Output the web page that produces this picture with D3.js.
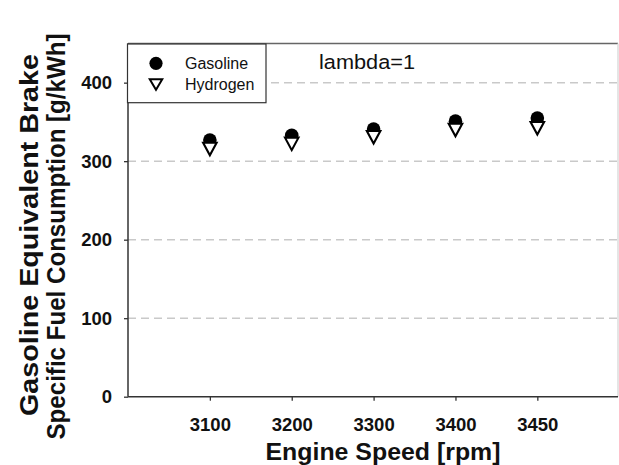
<!DOCTYPE html>
<html><head><meta charset="utf-8">
<script src="https://cdn.jsdelivr.net/npm/d3@7"></script>
<style>body{margin:0;background:#fff}svg{display:block}</style>
</head><body><svg id="c" width="619" height="465"></svg>
<script>
const categories = ["3100", "3200", "3300", "3400", "3450"];
const gasoline = [327, 333, 341, 351, 355];
const hydrogen = [315.5, 322, 330.5, 339.7, 342];
const yTicks = [0, 100, 200, 300, 400];
const gridValues = [100, 200, 300, 400];
const seriesNames = ["Gasoline", "Hydrogen"];
const annotation = "lambda=1";
const xTitle = "Engine Speed [rpm]";
const yTitle = ["Gasoline Equivalent Brake", "Specific Fuel Consumption [g/kWh]"];

const font = "'Liberation Sans', Arial, Helvetica, sans-serif";
const svg = d3.select("#c").style("font-family", font);

const x = d3.scaleLinear().domain([0, 6]).range([128, 619.2]);
const y = d3.scaleLinear().domain([0, 450]).range([396.7, 43.4]);
const idx = categories.map((c, i) => i + 1);

// grid
svg.append("g").selectAll("line").data(gridValues).join("line")
  .attr("x1", 128).attr("x2", 618)
  .attr("y1", d => y(d)).attr("y2", d => y(d))
  .attr("stroke", "#c9c9c9").attr("stroke-width", 1.5)
  .attr("stroke-dasharray", "8,5");

// frame top & right
svg.append("line").attr("x1", 128).attr("x2", 618).attr("y1", y(450)).attr("y2", y(450))
  .attr("stroke", "#666").attr("stroke-width", 1.5);
svg.append("line").attr("x1", 618).attr("x2", 618).attr("y1", y(450)).attr("y2", y(0))
  .attr("stroke", "#ddd").attr("stroke-width", 1.5);

// axes
const yAxis = d3.axisLeft(y).tickValues(yTicks).tickSize(4).tickPadding(12).tickFormat(d3.format("d"));
const gy = svg.append("g").attr("transform", "translate(128,0)").call(yAxis);
gy.select(".domain").attr("d", `M0,${y(450)}V${y(0)}`).attr("stroke", "#333").attr("stroke-width", 1.5);
gy.selectAll(".tick line").attr("stroke", "#333").attr("stroke-width", 1.3);
gy.selectAll(".tick text").attr("font-size", 18.5).attr("font-weight", "bold").attr("fill", "#111")
  .attr("font-family", font);

const xAxis = d3.axisBottom(x).tickValues(idx).tickSize(4).tickPadding(17)
  .tickFormat(i => categories[i - 1]);
const gx = svg.append("g").attr("transform", `translate(0,${y(0)})`).call(xAxis);
gx.select(".domain").attr("d", `M128,0H618`).attr("stroke", "#333").attr("stroke-width", 1.5);
gx.selectAll(".tick line").attr("stroke", "#333").attr("stroke-width", 1.3);
gx.selectAll(".tick text").attr("font-size", 18.5).attr("font-weight", "bold").attr("fill", "#111")
  .attr("font-family", font);

// titles
svg.append("text").attr("x", 383).attr("y", 460).attr("text-anchor", "middle")
  .attr("font-size", 23.5).attr("font-weight", "bold").attr("fill", "#111")
  .attr("textLength", 235).attr("lengthAdjust", "spacingAndGlyphs").text(xTitle);

const yt = [[38, 235, 362], [65, 236.5, 406]];
yTitle.forEach((t, i) => {
  svg.append("text").attr("transform", `translate(${yt[i][0]},${yt[i][1]}) rotate(-90)`)
    .attr("text-anchor", "middle").attr("font-size", 25.5).attr("font-weight", "bold").attr("fill", "#111")
    .attr("textLength", yt[i][2]).attr("lengthAdjust", "spacingAndGlyphs").text(t);
});

// triangle path generator
function tri(cx, cy, w, h) {
  return `M${cx - w / 2},${cy - h / 2}L${cx + w / 2},${cy - h / 2}L${cx},${cy + h / 2}Z`;
}

// data markers
svg.append("g").selectAll("circle").data(gasoline).join("circle")
  .attr("cx", (d, i) => x(idx[i])).attr("cy", d => y(d)).attr("r", 6.8).attr("fill", "#000");
svg.append("g").selectAll("path").data(hydrogen).join("path")
  .attr("d", (d, i) => tri(x(idx[i]), y(d), 13.5, 12.5))
  .attr("fill", "#fff").attr("stroke", "#000").attr("stroke-width", 2.1).attr("stroke-linejoin", "miter");

// legend
const lg = svg.append("g");
lg.append("rect").attr("x", 127.5).attr("y", 44).attr("width", 138.5).attr("height", 58.7)
  .attr("fill", "#fff").attr("stroke", "#333").attr("stroke-width", 1.2);
lg.append("circle").attr("cx", 156).attr("cy", 63.3).attr("r", 6.6).attr("fill", "#000");
lg.append("path").attr("d", tri(156, 84.5, 12.5, 10.7)).attr("fill", "#fff").attr("stroke", "#000").attr("stroke-width", 2);
lg.selectAll("text.lt").data(seriesNames).join("text").attr("class", "lt")
  .attr("x", 185).attr("y", (d, i) => [69.3, 89.5][i])
  .attr("font-size", 16).attr("fill", "#111").text(d => d);

// annotation
svg.append("text").attr("x", 319).attr("y", 69.3).attr("font-size", 20.5).attr("fill", "#111")
  .attr("textLength", 96).attr("lengthAdjust", "spacingAndGlyphs").text(annotation);
</script></body></html>
